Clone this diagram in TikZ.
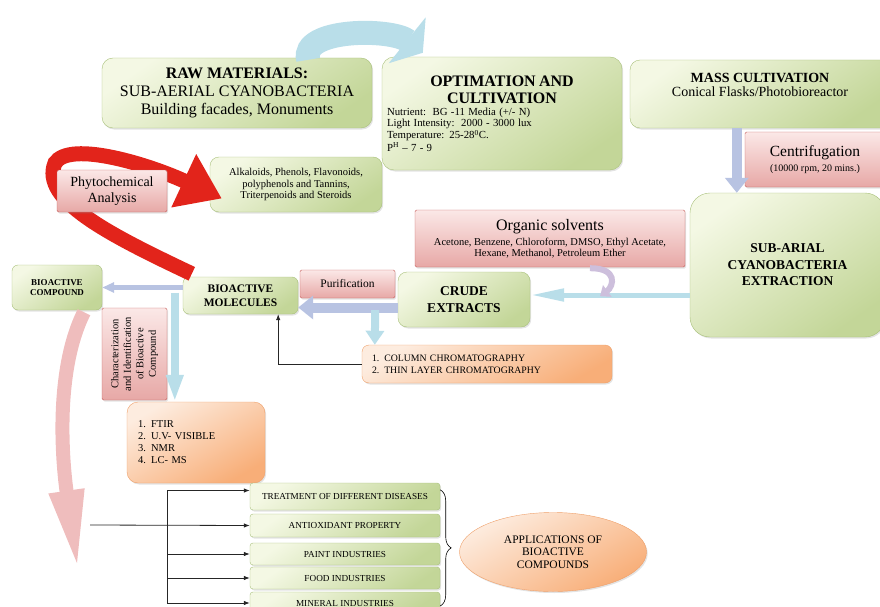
\documentclass[tikz,border=0pt]{standalone}
\usepackage{fontspec}
\setmainfont{Liberation Serif}
\usepackage{tikz}
\usetikzlibrary{arrows.meta,positioning,calc,shadows,shapes.geometric,decorations.pathreplacing}
\definecolor{grntop}{HTML}{F4F8E4}
\definecolor{grnbot}{HTML}{C3D698}
\definecolor{grnline}{HTML}{A8C07A}
\definecolor{pnktop}{HTML}{FBE8E7}
\definecolor{pnkbot}{HTML}{E7A8A6}
\definecolor{pnkline}{HTML}{C65F5C}
\definecolor{orgtop}{HTML}{FDECDF}
\definecolor{orgbot}{HTML}{F8AE78}
\definecolor{orgline}{HTML}{EFA06A}
\definecolor{skyfill}{HTML}{B9DEE9}
\definecolor{lavfill}{HTML}{B8C3E2}
\definecolor{plmfill}{HTML}{CDBFDC}
\definecolor{redfill}{HTML}{E2241B}
\definecolor{rosefill}{HTML}{EFBDBD}
\tikzset{
  bx/.style={rounded corners=6pt,thin,align=center,inner sep=3pt,
             drop shadow={opacity=0.22,shadow xshift=1.2pt,shadow yshift=-1.5pt}},
  grnbox/.style={bx,draw=grnline,top color=grntop,bottom color=grnbot,shading angle=35},
  pnkbox/.style={bx,rounded corners=1.5pt,draw=pnkline,top color=pnktop,bottom color=pnkbot},
  orgbox/.style={bx,draw=orgline,top color=orgtop,bottom color=orgbot,shading angle=30},
  appbox/.style={grnbox,rounded corners=3pt,minimum width=190pt,
                 font={\fontsize{9.2}{10}\selectfont}},
  skyflow/.style={-{Triangle[width=18pt,length=14pt]},line width=8pt,skyfill},
  lavflow/.style={-{Triangle[width=23pt,length=15pt]},line width=10pt,lavfill},
  lavthin/.style={-{Triangle[width=10pt,length=12pt]},line width=4.5pt,lavfill},
  thinflow/.style={-{Triangle[width=12pt,length=34pt]},line width=5pt,skyfill},
  blkline/.style={line width=0.8pt,black!85},
  blkflow/.style={blkline,-{Latex[length=6pt,width=4.5pt]}}
}

\begin{document}
\begin{tikzpicture}[x=1pt,y=-1pt]
  \useasboundingbox (0,0) rectangle (880,607);

  \node[grnbox,minimum width=270pt,minimum height=70pt,rounded corners=11pt,
        font={\fontsize{16}{18}\selectfont}] (raw) at (237,93)
    {\textbf{RAW MATERIALS:}\\SUB-AERIAL CYANOBACTERIA\\Building facades, Monuments};
  \node[grnbox,minimum width=240pt,minimum height=113pt,rounded corners=12pt,
        text width=230pt,align=left] (opt) at (502,113.5)
    {{\centering\fontsize{16}{17}\bfseries OPTIMATION AND\\CULTIVATION\par}\vspace{2pt}
     {\fontsize{10.8}{10.7}\selectfont Nutrient:\ \ BG -11 Media (+/- N)\\
      Light Intensity:\ \ 2000 - 3000 lux\\
      Temperature: 25-28\textsuperscript{0}C.\\
      P\textsuperscript{H} -- 7 - 9\par}\vspace{8pt}};
  \node[grnbox,minimum width=260pt,minimum height=68pt,rounded corners=10pt,
        text depth=18pt,font={\fontsize{14}{14}\selectfont}] (mass) at (760,94)
    {\textbf{MASS CULTIVATION}\\Conical Flasks/Photobioreactor};
  \node[pnkbox,minimum width=140pt,minimum height=55pt,
        font={\fontsize{15.5}{15}\selectfont}] (cent) at (815,159.5)
    {Centrifugation\\{\fontsize{10}{12}\selectfont (10000 rpm, 20 mins.)}};
  \node[grnbox,minimum width=195pt,minimum height=144pt,rounded corners=20pt,
        font={\fontsize{13.5}{16.5}\selectfont\bfseries}] (ext) at (787.5,265)
    {SUB-ARIAL\\CYANOBACTERIA\\EXTRACTION};
  \node[pnkbox,minimum width=270pt,minimum height=57pt,
        font={\fontsize{16}{15}\selectfont}] (solv) at (550,238.5)
    {Organic solvents\\{\fontsize{10.5}{12}\selectfont Acetone, Benzene, Chloroform, DMSO, Ethyl Acetate,}\\[-4pt]
     {\fontsize{10.5}{12}\selectfont Hexane, Methanol, Petroleum Ether}};
  \node[grnbox,minimum width=132pt,minimum height=55pt,rounded corners=9pt,
        font={\fontsize{13.5}{16.5}\selectfont\bfseries}] (crude) at (464,299.5)
    {CRUDE\\EXTRACTS};
  \node[pnkbox,minimum width=95pt,minimum height=28pt,
        font={\fontsize{11.5}{13}\selectfont}] (puri) at (347.5,284) {Purification};
  \node[grnbox,minimum width=115pt,minimum height=37pt,
        font={\fontsize{11.5}{14.5}\selectfont\bfseries}] (mol) at (240.5,295.5)
    {BIOACTIVE\\MOLECULES};
  \node[grnbox,minimum width=90pt,minimum height=45pt,
        font={\fontsize{9}{9.8}\selectfont\bfseries}] (cmp) at (57,287.5)
    {BIOACTIVE\\COMPOUND};
  \node[orgbox,minimum width=250pt,minimum height=38pt,rounded corners=7pt,
        text width=230pt,align=left,font={\fontsize{9.8}{12}\selectfont}] (chrom) at (487,364)
    {1. COLUMN CHROMATOGRAPHY\\2. THIN LAYER CHROMATOGRAPHY};
  \node[pnkbox,rotate=90,minimum width=92pt,minimum height=65pt,
        font={\fontsize{10.5}{12.5}\selectfont}] (char) at (134.5,354)
    {Characterization\\and Identification\\of Bioactive\\Compound};
  \node[orgbox,minimum width=138pt,minimum height=81pt,rounded corners=11pt,
        text width=116pt,align=left,font={\fontsize{10.5}{12}\selectfont}] (ftir) at (196,442.5)
    {1. FTIR\\2. U.V- VISIBLE\\3. NMR\\4. LC- MS\par\vspace{24pt}};
  \node[grnbox,minimum width=172pt,minimum height=55pt,rounded corners=9pt,
        font={\fontsize{10.5}{11.5}\selectfont}] (alk) at (296,184.5)
    {Alkaloids, Phenols, Flavonoids,\\polyphenols and Tannins,\\Triterpenoids and Steroids};

  \node[appbox,minimum height=27pt] (treat) at (345,496.5) {TREATMENT OF DIFFERENT DISEASES};
  \node[appbox,minimum height=23pt] (anti) at (345,525.5) {ANTIOXIDANT PROPERTY};
  \node[appbox,minimum height=22pt] (paint) at (345,554) {PAINT INDUSTRIES};
  \node[appbox,minimum height=22pt] (food) at (345,578) {FOOD INDUSTRIES};
  \node[appbox,minimum height=22pt] (mineral) at (345,603) {MINERAL INDUSTRIES};
  \node[orgbox,ellipse,minimum width=187pt,minimum height=79pt,
        font={\fontsize{11.5}{12.5}\selectfont}] (apps) at (553,552)
    {APPLICATIONS OF\\BIOACTIVE\\COMPOUNDS};

  % big flows
  \draw[-{Triangle[width=58pt,length=20pt]},line width=24pt,skyfill]
    ($(raw.north east)+(-64,2)$) .. controls (300,28) and (392,28) .. ($(opt.north west)+(41,-4)$);
  \draw[-{Triangle[width=56pt,length=42pt]},line width=15pt,redfill]
    ($(mol.north west)+(9,-3)$) .. controls (110,235) and (40,200) .. (55,163)
    .. controls (70,140) and (150,165) .. ($(alk.west)+(12,14)$);
  \node[pnkbox,minimum width=110pt,minimum height=42pt,
        font={\fontsize{14}{15.5}\selectfont}] (phyto) at (112,191)
    {Phytochemical\\Analysis};
  \draw[-{Triangle[width=32pt,length=80pt]},line width=14pt,rosefill]
    ($(cmp.south)+(27,2)$) .. controls (55,370) and (62,460) .. (78,570);

  \draw[lavflow] ($(mass.south west)+(107,0)$) -- ($(ext.north west)+(47,0)$);
  \draw[thinflow] ($(ext.west)+(0,30)$) -- ($(crude.east)+(0,-4.5)$);
  \draw[-{Triangle[width=14pt,length=9pt]},line width=6pt,plmfill]
    ($(solv.south)+(40,1)$) .. controls (618,268) and (614,286) .. ($(solv.south)+(50,29)$);
  \draw[lavflow] ($(crude.west)+(0,8)$) coordinate (c1) -- (c1 -| mol.east);
  \draw[skyflow] ($(puri.south east)+(-20,12)$) -- ($(chrom.north west)+(13,0)$);
  \draw[blkflow] (chrom.west) -| ($(mol.south east)+(-20,0)$);
  \draw[lavthin] (mol.west |- cmp.east) -- (cmp.east);
  \draw[skyflow,-{Triangle[width=16pt,length=27pt]}] ($(mol.west)+(-8,-3)$) coordinate (d0) -- (d0 |- ftir.north);

  % applications
  \coordinate (hub) at (90,525);
  \coordinate (bus) at (167,0);
  \coordinate (t0) at ($(treat.west)+(0,-6)$);
  \draw[blkflow] (hub) -- (anti.west);
  \draw[blkline] (t0 -| bus) -- (mineral.west -| bus);
  \draw[blkflow] (t0 -| bus) -- (t0);
  \foreach \b in {paint,food,mineral}
    \draw[blkflow] (\b.west -| bus) -- (\b.west);
  \draw[semithick,decorate,decoration={brace,amplitude=11pt}]
    ($(treat.north east)+(0,7)$) -- ($(mineral.east)+(0,3)$);
\end{tikzpicture}
\end{document}
